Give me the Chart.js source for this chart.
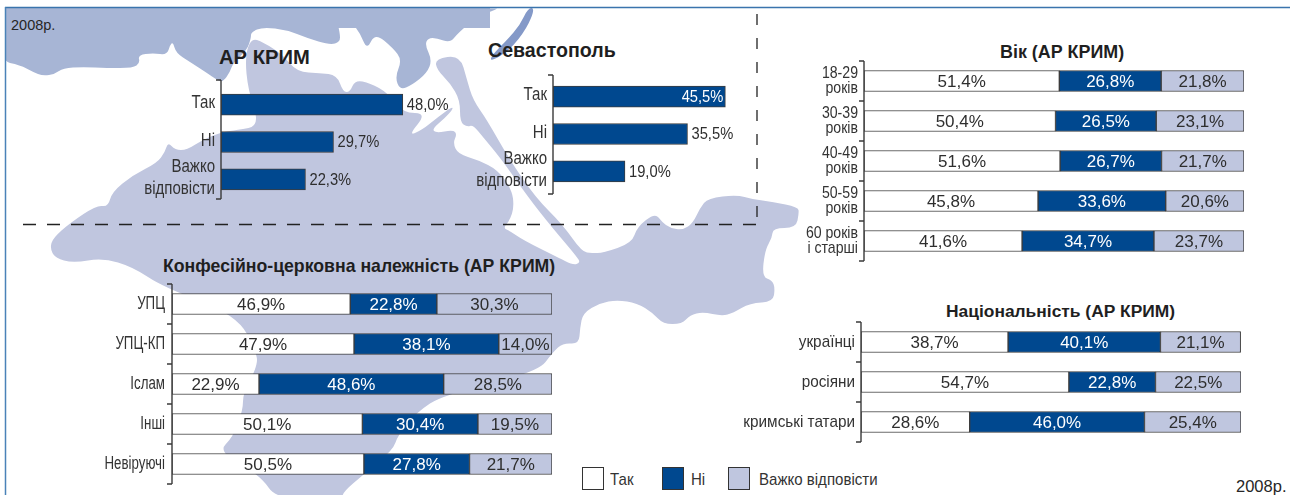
<!DOCTYPE html>
<html><head><meta charset="utf-8">
<script src="https://cdn.jsdelivr.net/npm/chart.js@4"></script>
<style>
html,body{margin:0;padding:0;background:#fff;width:1290px;height:495px;overflow:hidden;position:relative}
#map{position:absolute;left:0;top:0}
canvas{position:absolute}
.t{position:absolute;white-space:nowrap;color:#262626;font-family:"Liberation Sans",Arial,sans-serif}
.b{font-weight:bold;color:#1f1f1f}
.n{font-size:17px;line-height:20px;color:#333;transform:scaleX(.885);transform-origin:left center}
.sw{position:absolute;width:22px;height:23px;box-sizing:border-box;border:1px solid #333}
</style></head><body>
<svg id="map" width="1290" height="495" xmlns="http://www.w3.org/2000/svg"></svg>
<div class="t" style="left:11px;top:17px;font-size:14.5px;line-height:17px">2008р.</div>
<div class="t" style="left:1236px;top:477px;font-size:16.5px;line-height:18px">2008р.</div>
<div class="t b" style="left:219px;top:45px;font-size:20.2px;line-height:24px">АР КРИМ</div>
<div class="t b" style="left:488px;top:39px;font-size:19.6px;line-height:22px">Севастополь</div>
<div class="t b" style="left:163px;top:256px;font-size:17.7px;line-height:20px">Конфесійно-церковна належність (АР КРИМ)</div>
<div class="t b" style="left:1000px;top:42px;font-size:17.9px;line-height:20px">Вік (АР КРИМ)</div>
<div class="t b" style="left:946px;top:301px;font-size:17.4px;line-height:20px">Національність (АР КРИМ)</div>
<div class="sw" style="left:582px;top:467px;background:#fff"></div><div class="t n" style="left:610px;top:470px">Так</div>
<div class="sw" style="left:662px;top:467px;background:#00488f"></div><div class="t n" style="left:691px;top:470px">Ні</div>
<div class="sw" style="left:728px;top:467px;background:#bfc6df"></div><div class="t n" style="left:759px;top:470px">Важко відповісти</div>
<canvas id="c1"></canvas><canvas id="c2"></canvas><canvas id="c3"></canvas><canvas id="c4"></canvas><canvas id="c5"></canvas>
<script>
// ---- data ----
const answerNames = ['Так','Ні','Важко відповісти'];
const crimeaCats = ['Так','Ні',['Важко','відповісти']];
const crimeaVals = [48.0,29.7,22.3];
const sevastopolCats = ['Так','Ні',['Важко','відповісти']];
const sevastopolVals = [45.5,35.5,19.0];
const faithCats = ['УПЦ','УПЦ-КП','Іслам','Інші','Невіруючі'];
const faithYes = [46.9,47.9,22.9,50.1,50.5];
const faithNo = [22.8,38.1,48.6,30.4,27.8];
const faithHard = [30.3,14.0,28.5,19.5,21.7];
const ageCats = [['18-29','років'],['30-39','років'],['40-49','років'],['50-59','років'],['60 років','і старші']];
const ageYes = [51.4,50.4,51.6,45.8,41.6];
const ageNo = [26.8,26.5,26.7,33.6,34.7];
const ageHard = [21.8,23.1,21.7,20.6,23.7];
const natCats = ['українці','росіяни','кримські татари'];
const natYes = [38.7,54.7,28.6];
const natNo = [40.1,22.8,46.0];
const natHard = [21.1,22.5,25.4];

const BLUE='#00488f', LIGHT='#bfc6df', SEA='#a7b5d5', EDGE='#3c3c3c';
const SANS='"Liberation Sans",Arial,sans-serif';

// ---- background map (decorative) ----
const seaOutline=[[497,9],[477,17],[458,33],[450,43],[437,38],[428,38],[425,45],[432,60],[427,73],[412,85],[400,90],[395,77],[402,60],[393,48],[375,33],[367,50],[360,33],[350,20],[335,13],[340,33],[340,42],[330,45],[307,38],[287,30],[263,27],[251,32],[251,38],[247,50],[233,63],[230,72],[223,82],[217,80],[207,73],[190,62],[176,53],[173,42],[170,45],[167,55],[153,53],[138,55],[140,63],[133,68],[107,68],[83,67],[63,68],[55,74],[43,76],[33,72],[20,65],[0,61],[0,8],[497,8]];
const sliverOutline=[[535,8],[527,28],[510,50],[490,62],[492,55],[507,40],[520,25],[528,8]];
const landOutline=[[251,38],[263,42],[283,55],[297,72],[320,73],[337,75],[343,92],[350,92],[355,80],[370,83],[388,93],[403,113],[427,113],[408,136],[422,130],[438,117],[452,107],[453,109],[445,118],[432,129],[436,133],[453,130],[457,134],[453,143],[458,154],[478,160],[498,170],[512,190],[514,207],[510,220],[503,228],[510,231],[523,240],[557,257],[573,265],[580,263],[578,258],[550,225],[528,197],[502,160],[483,137],[473,125],[467,127],[460,122],[460,100],[450,83],[437,70],[435,59],[460,55],[467,80],[473,100],[487,120],[508,157],[535,197],[563,225],[582,252],[592,253],[603,253],[632,243],[637,227],[655,213],[662,222],[670,228],[683,230],[693,223],[700,208],[708,198],[737,195],[752,199],[773,202],[798,207],[799,213],[796,228],[773,228],[772,238],[765,250],[762,277],[772,280],[775,288],[773,302],[750,303],[733,313],[722,316],[703,312],[690,315],[682,324],[663,324],[653,313],[637,303],[617,300],[600,303],[583,313],[580,328],[579,344],[563,343],[553,352],[538,372],[443,395],[417,412],[398,435],[393,450],[363,475],[343,492],[342,500],[277,500],[260,475],[218,452],[233,437],[243,410],[243,393],[257,367],[257,353],[237,315],[163,287],[133,267],[103,258],[73,263],[55,258],[50,248],[53,238],[70,223],[97,205],[108,207],[112,192],[133,175],[157,163],[165,152],[168,142],[175,150],[187,150],[202,140],[222,132],[237,130],[260,126],[248,90],[245,57]];
function smooth(p){let n=p.length,m=(a,b)=>[(a[0]+b[0])/2,(a[1]+b[1])/2],s=m(p[n-1],p[0]),d=`M${s[0]} ${s[1]}`;
  for(let i=0;i<n;i++){let e=m(p[i],p[(i+1)%n]);d+=`Q${p[i][0]} ${p[i][1]} ${e[0]} ${e[1]}`;}return d+'Z';}
document.getElementById('map').innerHTML=
 `<path d="${smooth(seaOutline)}" fill="${SEA}"/><rect x="0" y="8" width="490" height="20" fill="${SEA}"/>`+
 `<path d="${smooth(sliverOutline)}" fill="#8499c8"/>`+
 `<path d="${smooth(landOutline)}" fill="#c0c6df"/>`+
 `<rect x="0" y="0" width="1290" height="7" fill="#fff"/><rect x="0" y="0" width="5" height="495" fill="#fff"/>`+
 `<line x1="5" y1="7.5" x2="1290" y2="7.5" stroke="#3a74ad" stroke-width="1.5"/><line x1="5.5" y1="7" x2="5.5" y2="495" stroke="#4a82b8" stroke-width="1.5"/>`+
 `<line x1="23" y1="224.5" x2="757" y2="224.5" stroke="#222" stroke-width="1.3" stroke-dasharray="13 11"/>`+
 `<line x1="757" y1="14" x2="757" y2="224" stroke="#222" stroke-width="1.3" stroke-dasharray="11 13"/>`;

// ---- plugins ----
const fmt=v=>v.toFixed(1).replace('.',',')+'%';
function squeezed(c,text,x,y,sx,align){c.save();c.translate(x,y);c.scale(sx,1);c.textAlign=align;c.fillText(text,0,0);c.restore();}
const bracket={id:'bracket',afterDatasetsDraw(ch,a,o){
  const y=ch.scales.y,x=ch.chartArea.left,c=ch.ctx,n=ch.data.labels.length,band=(ch.chartArea.bottom-ch.chartArea.top)/n;
  const top=ch.chartArea.top-(o.ext||0),bot=ch.chartArea.bottom+(o.ext2||0);
  c.save();c.strokeStyle='#3a3a3a';c.lineWidth=1.4;c.beginPath();c.moveTo(x,top);c.lineTo(x,bot);
  const ys=o.endsOnly?[top,bot]:ch.data.labels.map((t,i)=>ch.chartArea.top+band*i).concat(ch.chartArea.bottom);
  ys.forEach(v=>{c.moveTo(x,v);c.lineTo(x-5,v);});c.stroke();c.restore();}};
const catLabels={id:'catLabels',afterDatasetsDraw(ch,a,o){
  const y=ch.scales.y,c=ch.ctx,x=ch.chartArea.left-o.gap;
  c.save();c.font=o.size+'px '+SANS;c.fillStyle='#333';c.textBaseline='middle';
  ch.data.labels.forEach((l,i)=>{const lines=[].concat(l),py=y.getPixelForValue(i)+(o.dy||0);
    lines.forEach((t,k)=>squeezed(c,t,x,py+(k-(lines.length-1)/2)*o.lead,o.sx,'right'));});c.restore();}};
const stackLabels={id:'stackLabels',afterDatasetsDraw(ch,a,o){
  if(!o.on)return;const c=ch.ctx;c.save();c.font='17px '+SANS;c.textAlign='center';c.textBaseline='middle';
  ch.data.datasets.forEach((ds,di)=>ch.getDatasetMeta(di).data.forEach((b,i)=>{
    c.fillStyle=ds.backgroundColor===BLUE?'#fff':'#2e2e2e';c.fillText(fmt(ds.data[i]),(b.base+b.x)/2,b.y+1);}));c.restore();}};
const endLabels={id:'endLabels',afterDatasetsDraw(ch,a,o){
  if(!o.on)return;const c=ch.ctx;c.save();c.font='16px '+SANS;c.textBaseline='middle';
  const ds=ch.data.datasets[0];ch.getDatasetMeta(0).data.forEach((b,i)=>{
    const inside=(o.inside||[]).includes(i);c.fillStyle=inside?'#fff':'#2e2e2e';
    squeezed(c,fmt(ds.data[i]),inside?b.x-2:b.x+4,b.y+1,.92,inside?'right':'left');});c.restore();}};
Chart.register(bracket,catLabels,stackLabels,endLabels);

function panel(id,cfg){
  const el=document.getElementById(id),PAD=10;
  el.width=cfg.labelW+cfg.plotW;el.height=cfg.h+2*PAD;
  el.style.left=(cfg.axis-cfg.labelW)+'px';el.style.top=(cfg.top-PAD)+'px';
  new Chart(el,{type:'bar',data:{labels:cfg.cats,datasets:cfg.datasets},options:{
    indexAxis:'y',responsive:false,animation:false,events:[],
    layout:{padding:{top:PAD,bottom:PAD,left:0,right:0}},
    scales:{
      x:{display:false,stacked:true,min:0,max:cfg.max},
      y:{stacked:true,grid:{display:false},border:{display:false},
         afterFit(s){s.width=cfg.labelW;},ticks:{display:false}}
    },
    plugins:{legend:{display:false},tooltip:{enabled:false},
      bracket:cfg.bracket||{},catLabels:cfg.labels,stackLabels:{on:!cfg.single},endLabels:{on:!!cfg.single,inside:cfg.inside}}
  }});
}
const seg=(label,data,color)=>({label,data,backgroundColor:color,borderColor:EDGE,borderWidth:1,borderSkipped:false,barThickness:21});
const trio=(y,n,h)=>[seg(answerNames[0],y,'#ffffff'),seg(answerNames[1],n,BLUE),seg(answerNames[2],h,LIGHT)];

panel('c1',{axis:221,labelW:100,top:86,h:112,plotW:250,max:66,cats:crimeaCats,single:true,
  labels:{gap:6,size:17.5,sx:.86,lead:22,dy:-1},datasets:[seg('АР КРИМ',crimeaVals,BLUE)],bracket:{ext:6,ext2:1,endsOnly:true}});
panel('c2',{axis:553,labelW:100,top:78,h:112,plotW:197,max:52,cats:sevastopolCats,single:true,inside:[0],
  labels:{gap:6,size:17.5,sx:.86,lead:22,dy:-1},datasets:[seg('Севастополь',sevastopolVals,BLUE)],bracket:{ext:3,ext2:4,endsOnly:true}});
panel('c3',{axis:172,labelW:100,top:284,h:200,plotW:380,max:100,cats:faithCats,
  labels:{gap:7,size:17.5,sx:.76,lead:16},datasets:trio(faithYes,faithNo,faithHard)});
panel('c4',{axis:864,labelW:100,top:61,h:200,plotW:380,max:100,cats:ageCats,
  labels:{gap:6,size:17,sx:.83,lead:15.5},datasets:trio(ageYes,ageNo,ageHard)});
panel('c5',{axis:861,labelW:130,top:322,h:120,plotW:380,max:100,cats:natCats,
  labels:{gap:6,size:17,sx:.9,lead:16},datasets:trio(natYes,natNo,natHard)});
</script>
</body></html>
